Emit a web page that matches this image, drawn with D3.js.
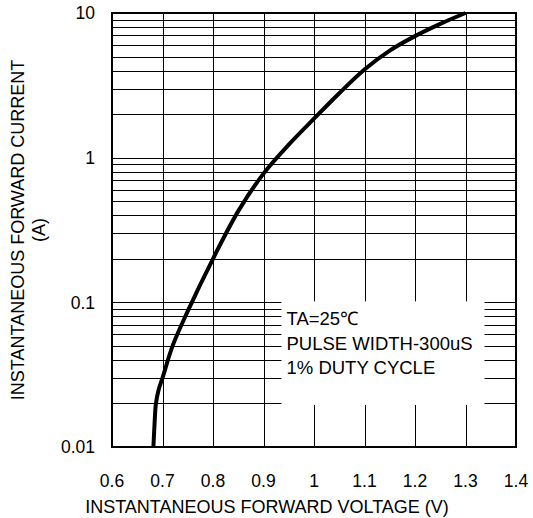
<!DOCTYPE html>
<html>
<head>
<meta charset="utf-8">
<script src="https://cdn.jsdelivr.net/npm/d3@7"></script>
<style>
  body { margin: 0; background: #fff; }
  text { font-family: "Liberation Sans", Arial, sans-serif; fill: #000; }
</style>
</head>
<body>
<div id="chart"></div>
<script>
// Forward voltage (V) vs forward current (A)
const voltage = [0.682, 0.6845, 0.687, 0.6925, 0.700, 0.720, 0.750, 0.800, 0.850, 0.900, 0.950, 1.000, 1.050, 1.100, 1.150, 1.200, 1.250, 1.300];
const current = [0.01, 0.015, 0.02, 0.025, 0.03, 0.05, 0.087, 0.2, 0.427, 0.776, 1.23, 1.86, 2.79, 4.07, 5.5, 6.92, 8.41, 10.0];

const xTicks = [0.6, 0.7, 0.8, 0.9, 1.0, 1.1, 1.2, 1.3, 1.4];
const yTicks = [0.01, 0.1, 1, 10];
const yTickLabels = ["0.01", "0.1", "1", "10"];
const noteLines = ["TA=25\u2103", "PULSE WIDTH-300uS", "1% DUTY CYCLE"];

const svgWidth = 533, svgHeight = 518;
const margin = { left: 112, top: 13, right: 17, bottom: 71 };
const plotRight = svgWidth - margin.right;
const plotBottom = svgHeight - margin.bottom;

const svg = d3.select("#chart")
    .append("svg")
    .attr("width", svgWidth)
    .attr("height", svgHeight);

const x = d3.scaleLinear()
    .domain([0.6, 1.4])
    .range([margin.left, plotRight]);

const y = d3.scaleLog()
    .domain([0.01, 10])
    .range([plotBottom, margin.top]);

// Minor log grid: 1..9 in every decade
const yGrid = [];
[0.01, 0.1, 1].forEach(d => {
    for (let k = 2; k <= 9; k++) yGrid.push(d * k);
    if (d > 0.01) yGrid.push(d);
});

const grid = svg.append("g")
    .attr("stroke", "#000")
    .attr("stroke-width", 1)
    .attr("shape-rendering", "crispEdges");

grid.selectAll(".hgrid")
    .data(yGrid)
    .enter().append("line")
    .attr("x1", margin.left)
    .attr("x2", plotRight)
    .attr("y1", d => Math.round(y(d)) + 0.5)
    .attr("y2", d => Math.round(y(d)) + 0.5);

grid.selectAll(".vgrid")
    .data(xTicks.slice(1, -1))
    .enter().append("line")
    .attr("x1", d => Math.round(x(d)) + 0.5)
    .attr("x2", d => Math.round(x(d)) + 0.5)
    .attr("y1", margin.top)
    .attr("y2", plotBottom);

// White box behind the test conditions
const boxLeft = x(0.9) + 18, boxRight = x(1.3) + 19;
svg.append("rect")
    .attr("x", boxLeft)
    .attr("y", y(0.1) - 1)
    .attr("width", boxRight - boxLeft)
    .attr("height", y(0.02) - y(0.1) + 2.5)
    .attr("fill", "#fff");

svg.append("g")
    .selectAll("text")
    .data(noteLines)
    .enter().append("text")
    .attr("x", boxLeft + 5)
    .attr("y", (d, i) => 325 + i * 24.5)
    .style("font-size", "18.5px")
    .text(d => d);

// Curve
const line = d3.line()
    .x(d => x(d[0]))
    .y(d => y(d[1]))
    .curve(d3.curveCatmullRom.alpha(0.5));

svg.append("path")
    .datum(d3.zip(voltage, current))
    .attr("fill", "none")
    .attr("stroke", "#000")
    .attr("stroke-width", 4)
    .attr("d", line);

// Frame
svg.append("rect")
    .attr("x", margin.left)
    .attr("y", margin.top)
    .attr("width", plotRight - margin.left)
    .attr("height", plotBottom - margin.top)
    .attr("fill", "none")
    .attr("stroke", "#000")
    .attr("stroke-width", 2);

// Tick labels
svg.append("g")
    .selectAll("text")
    .data(xTicks)
    .enter().append("text")
    .attr("x", d => x(d))
    .attr("y", 487)
    .style("text-anchor", "middle")
    .style("font-size", "17.5px")
    .text(d => d3.format("")(+d.toFixed(1)));

svg.append("g")
    .selectAll("text")
    .data(yTicks)
    .enter().append("text")
    .attr("x", 95)
    .attr("y", d => y(d))
    .attr("dy", "0.36em")
    .style("text-anchor", "end")
    .style("font-size", "17.5px")
    .text((d, i) => yTickLabels[i]);

// Axis titles
svg.append("text")
    .attr("x", (margin.left + plotRight) / 2 - 47)
    .attr("y", 513)
    .style("text-anchor", "middle")
    .style("font-size", "18px")
    .text("INSTANTANEOUS FORWARD VOLTAGE (V)");

const yMid = (margin.top + plotBottom) / 2;
svg.append("text")
    .attr("transform", `translate(24, ${yMid}) rotate(-90)`)
    .style("text-anchor", "middle")
    .style("font-size", "18px")
    .text("INSTANTANEOUS FORWARD CURRENT");

svg.append("text")
    .attr("transform", `translate(45, ${yMid}) rotate(-90)`)
    .style("text-anchor", "middle")
    .style("font-size", "18px")
    .text("(A)");
</script>
</body>
</html>
